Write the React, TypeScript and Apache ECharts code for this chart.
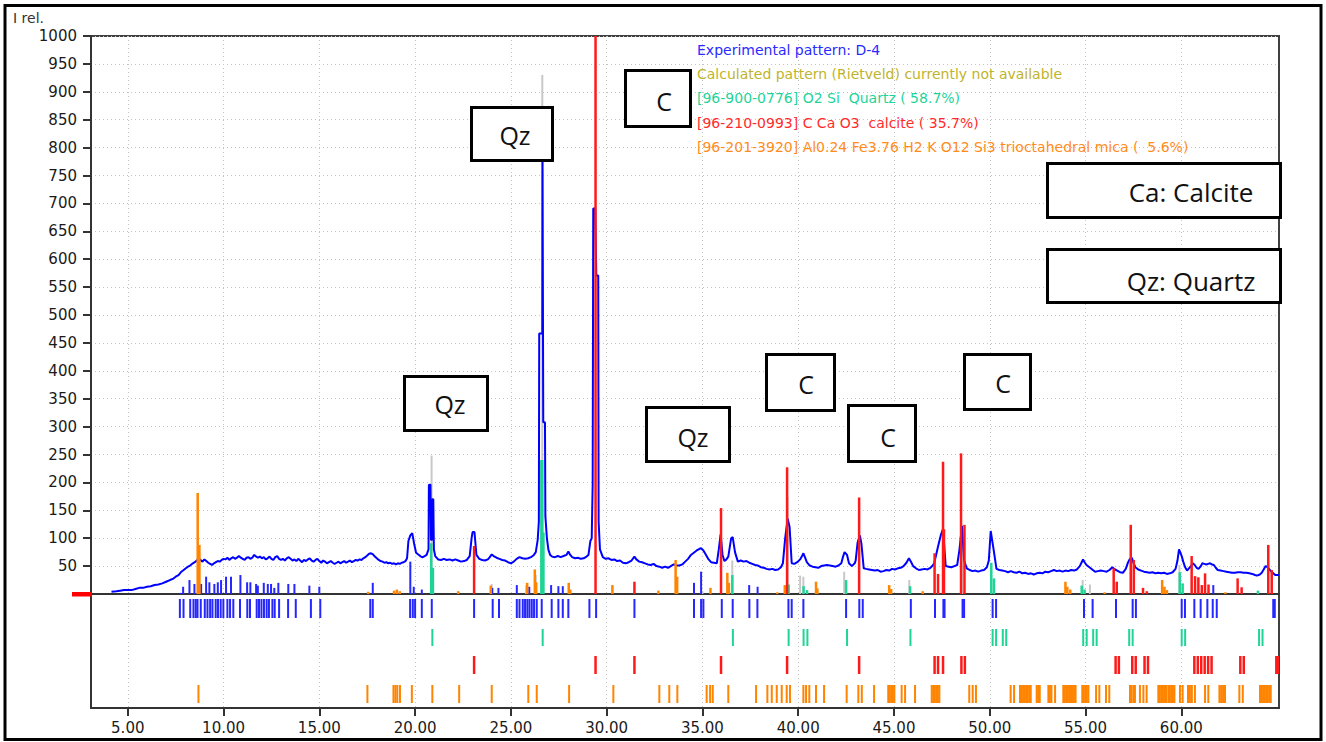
import React, { useEffect, useRef } from "react";
import * as echarts from "echarts";

// ---------- DATA ----------
const X_MIN = 3.08;
const X_MAX = 65.1;
const xTickValues = [5, 10, 15, 20, 25, 30, 35, 40, 45, 50, 55, 60];

// Experimental pattern (2theta, I rel.)
const experimental: [number, number][] = [
  [4.15, 4], [4.4, 5], [4.6, 6], [4.8, 7], [5.0, 7], [5.2, 7], [5.4, 9], [5.6, 11], [5.8, 11], [6.0, 13],
  [6.2, 14], [6.4, 16], [6.6, 17], [6.8, 19], [7.0, 22], [7.2, 25], [7.35, 27], [7.5, 31], [7.65, 34], [7.8, 40],
  [7.95, 44], [8.1, 48], [8.25, 51], [8.4, 55],
  [8.5, 57], [8.6, 60], [8.7, 63], [8.8, 61], [8.9, 58], [9.0, 62], [9.1, 59], [9.2, 56], [9.3, 54], [9.4, 52],
  [9.5, 55], [9.6, 57], [9.7, 59], [9.8, 58], [9.9, 61], [10.0, 63], [10.1, 62], [10.2, 65], [10.3, 61], [10.4, 64],
  [10.5, 66], [10.6, 63], [10.7, 65], [10.8, 68], [10.9, 65], [11.0, 63], [11.1, 61], [11.2, 65], [11.3, 66], [11.4, 63],
  [11.5, 65], [11.6, 70], [11.7, 67], [11.8, 65], [11.9, 67], [12.0, 64], [12.1, 66], [12.2, 62], [12.3, 64], [12.4, 67],
  [12.5, 63], [12.6, 61], [12.7, 66], [12.8, 68], [12.9, 63], [13.0, 61], [13.1, 63], [13.2, 60], [13.3, 64], [13.4, 66],
  [13.5, 63], [13.6, 60], [13.7, 62], [13.8, 59], [13.9, 63], [14.0, 60], [14.1, 57], [14.2, 61], [14.3, 59], [14.4, 62],
  [14.5, 64], [14.6, 60], [14.7, 58], [14.8, 61], [14.9, 63], [15.0, 59], [15.1, 56], [15.2, 60], [15.3, 58], [15.4, 55],
  [15.5, 57], [15.6, 59], [15.7, 56], [15.8, 54], [15.9, 56], [16.0, 58], [16.1, 55], [16.2, 57], [16.3, 59], [16.4, 56],
  [16.5, 58], [16.6, 60], [16.7, 57], [16.8, 59], [16.9, 61], [17.0, 60], [17.1, 62], [17.2, 61], [17.3, 64], [17.4, 66],
  [17.5, 69], [17.6, 72], [17.7, 73], [17.8, 71], [17.9, 67], [18.0, 64], [18.1, 61], [18.2, 59], [18.3, 58], [18.4, 56],
  [18.5, 57], [18.6, 55], [18.7, 56], [18.8, 54], [18.9, 55], [19.0, 53], [19.1, 55], [19.2, 54], [19.3, 56], [19.4, 57],
  [19.5, 59], [19.58, 64], [19.65, 95], [19.75, 105], [19.85, 109], [19.95, 90], [20.05, 74], [20.2, 70], [20.3, 67], [20.4, 66],
  [20.5, 68], [20.6, 70], [20.7, 80], [20.72, 196], [20.8, 196], [20.83, 97], [20.88, 97], [20.9, 170], [20.95, 170], [20.98, 80],
  [21.05, 68], [21.2, 62], [21.35, 61], [21.5, 63], [21.65, 61], [21.8, 62], [21.95, 60], [22.1, 62], [22.25, 60], [22.4, 58],
  [22.55, 59], [22.7, 61], [22.85, 68], [22.95, 100], [23.0, 111], [23.1, 111], [23.2, 70], [23.35, 63], [23.5, 61], [23.65, 60],
  [23.8, 62], [23.9, 66], [24.0, 71], [24.1, 68], [24.25, 65], [24.4, 63], [24.55, 61], [24.7, 60], [24.85, 57], [25.0, 55],
  [25.15, 58], [25.3, 63], [25.45, 66], [25.6, 64], [25.75, 63], [25.9, 64], [26.05, 66], [26.2, 70], [26.3, 75], [26.4, 97],
  [26.46, 130], [26.48, 467], [26.64, 467], [26.65, 800], [26.68, 800], [26.69, 308], [26.78, 308], [26.8, 140], [26.88, 100], [26.96, 79],
  [27.05, 70], [27.15, 67], [27.3, 66], [27.45, 68], [27.6, 66], [27.75, 68], [27.9, 70], [28.0, 76], [28.1, 70], [28.2, 66],
  [28.35, 64], [28.5, 65], [28.65, 63], [28.8, 64], [28.95, 67], [29.05, 70], [29.15, 95], [29.22, 100], [29.27, 196], [29.3, 691],
  [29.4, 691], [29.46, 571], [29.56, 571], [29.58, 130], [29.65, 80], [29.8, 66], [29.95, 63], [30.1, 64], [30.25, 61], [30.4, 62],
  [30.55, 59], [30.7, 60], [30.85, 56], [31.0, 55], [31.15, 57], [31.3, 60], [31.45, 67], [31.55, 62], [31.7, 58], [31.85, 57],
  [32.0, 55], [32.15, 53], [32.3, 52], [32.45, 54], [32.6, 50], [32.75, 49], [32.9, 47], [33.05, 49], [33.2, 47], [33.35, 50],
  [33.5, 53], [33.65, 51], [33.8, 51], [33.95, 53], [34.1, 58], [34.25, 63], [34.4, 70], [34.55, 74], [34.7, 78], [34.85, 81],
  [34.93, 82], [35.05, 78], [35.15, 72], [35.3, 63], [35.45, 57], [35.6, 56], [35.75, 55], [35.85, 79], [35.95, 107], [36.05, 70],
  [36.15, 59], [36.25, 62], [36.35, 67], [36.5, 100], [36.58, 102], [36.7, 75], [36.85, 58], [37.0, 60], [37.15, 58], [37.3, 59],
  [37.45, 56], [37.6, 54], [37.75, 52], [37.9, 51], [38.05, 48], [38.2, 47], [38.35, 45], [38.5, 44], [38.65, 45], [38.8, 43],
  [38.95, 44], [39.1, 48], [39.2, 55], [39.32, 100], [39.45, 135], [39.55, 120], [39.66, 55], [39.8, 54], [39.95, 57], [40.1, 62],
  [40.2, 68], [40.27, 73], [40.35, 66], [40.45, 57], [40.6, 51], [40.75, 49], [40.9, 48], [41.05, 47], [41.2, 50], [41.35, 51],
  [41.5, 52], [41.65, 51], [41.8, 50], [41.95, 49], [42.1, 51], [42.25, 55], [42.35, 68], [42.42, 75], [42.55, 70], [42.65, 55],
  [42.8, 50], [42.95, 55], [43.0, 60], [43.1, 92], [43.22, 105], [43.3, 90], [43.42, 46], [43.55, 45], [43.7, 44], [43.85, 43],
  [44.0, 42], [44.15, 43], [44.3, 40], [44.45, 41], [44.6, 43], [44.75, 42], [44.9, 45], [45.05, 44], [45.2, 46], [45.35, 47],
  [45.5, 50], [45.65, 56], [45.78, 64], [45.9, 57], [46.0, 50], [46.15, 46], [46.3, 43], [46.45, 44], [46.6, 45], [46.75, 44],
  [46.9, 47], [47.0, 50], [47.1, 55], [47.3, 85], [47.45, 106], [47.56, 117], [47.7, 50], [47.85, 49], [48.0, 48], [48.15, 50],
  [48.3, 52], [48.42, 80], [48.55, 122], [48.66, 60], [48.8, 46], [48.95, 43], [49.1, 41], [49.25, 42], [49.4, 40], [49.55, 42],
  [49.7, 43], [49.85, 48], [49.95, 60], [50.05, 113], [50.2, 80], [50.35, 45], [50.5, 43], [50.65, 42], [50.8, 41], [50.95, 39],
  [51.1, 41], [51.25, 39], [51.4, 38], [51.55, 40], [51.7, 37], [51.85, 38], [52.0, 36], [52.15, 37], [52.3, 35], [52.45, 37],
  [52.6, 38], [52.75, 37], [52.9, 40], [53.05, 39], [53.2, 41], [53.35, 43], [53.5, 41], [53.65, 42], [53.8, 40], [53.95, 42],
  [54.1, 41], [54.25, 43], [54.4, 42], [54.55, 44], [54.7, 50], [54.8, 57], [54.87, 62], [54.95, 57], [55.05, 52], [55.2, 48],
  [55.35, 44], [55.5, 40], [55.65, 41], [55.8, 42], [55.95, 41], [56.1, 40], [56.25, 43], [56.4, 48], [56.5, 45], [56.65, 42],
  [56.8, 39], [56.95, 38], [57.1, 45], [57.2, 55], [57.3, 62], [57.42, 65], [57.5, 56], [57.6, 48], [57.75, 44], [57.9, 42],
  [58.05, 40], [58.2, 39], [58.35, 38], [58.5, 39], [58.65, 37], [58.8, 38], [58.95, 37], [59.1, 38], [59.25, 36], [59.4, 37],
  [59.55, 39], [59.7, 45], [59.8, 60], [59.88, 80], [59.95, 74], [60.02, 68], [60.1, 58], [60.2, 48], [60.3, 42], [60.4, 46],
  [60.5, 50], [60.6, 55], [60.7, 52], [60.8, 47], [60.9, 45], [61.0, 49], [61.1, 55], [61.2, 54], [61.3, 53], [61.4, 54],
  [61.5, 55], [61.6, 53], [61.7, 52], [61.8, 47], [61.9, 43], [62.05, 42], [62.2, 41], [62.35, 40], [62.5, 39], [62.65, 38],
  [62.8, 38], [62.95, 39], [63.1, 39], [63.25, 38], [63.4, 38], [63.55, 37], [63.7, 36], [63.85, 34], [63.95, 33], [64.1, 35],
  [64.2, 38], [64.3, 44], [64.4, 50], [64.5, 48], [64.6, 44], [64.7, 40], [64.8, 37], [64.9, 34], [65.1, 34],
];

// Peak sticks (position, height)
const blueSticks: [number, number][] = [
  [7.75, 2], [7.89, 13], [8.22, 25], [8.48, 18], [8.83, 18], [9.09, 31], [9.26, 21], [9.52, 18], [9.7, 21], [9.87, 25],
  [10.13, 31], [10.39, 31], [10.88, 34], [11.23, 21], [11.4, 21], [11.7, 18], [11.79, 15], [12.1, 20], [12.31, 18], [12.48, 18],
  [12.65, 11], [12.86, 20], [13.38, 18], [13.7, 18], [14.48, 15], [15.0, 13], [17.79, 20], [19.75, 58], [19.93, 13], [20.35, 8],
  [24.03, 11], [24.35, 11], [25.31, 16], [25.96, 13], [27.1, 16], [27.48, 14], [27.71, 14], [34.56, 20], [34.93, 40], [37.44, 16],
  [37.88, 13], [61.67, 16],
];
const graySticks: [number, number][] = [
  [20.86, 248], [24.0, 18], [25.8, 16], [26.3, 34], [26.64, 930], [35.0, 5], [36.56, 60], [39.45, 174], [40.1, 33], [40.27, 31],
  [42.4, 40], [45.8, 25], [48.55, 110], [54.85, 25], [55.23, 17], [59.9, 52],
];
const greenSticks: [number, number][] = [
  [20.84, 91], [20.93, 47], [26.59, 240], [26.64, 240], [26.7, 110], [36.56, 34], [39.5, 17], [40.28, 14], [40.46, 7], [42.5, 25],
  [45.84, 14], [50.08, 56], [50.22, 28], [54.8, 15], [54.95, 8], [59.92, 39], [60.07, 19], [64.0, 6],
];
const redSticks: [number, number][] = [
  [23.08, 86], [29.42, 1000], [31.45, 22], [35.97, 154], [39.42, 227], [43.18, 173], [47.12, 73], [47.3, 36], [47.56, 237], [47.61, 116],
  [48.5, 252], [48.68, 124], [56.47, 46], [56.63, 22], [57.36, 124], [57.52, 61], [58.0, 11], [58.2, 5], [60.54, 68], [60.72, 32],
  [60.89, 30], [61.07, 16], [61.24, 37], [61.42, 17], [62.94, 28], [63.15, 12], [64.54, 88], [64.72, 43],
];
const orangeSticks: [number, number][] = [
  [8.65, 181], [8.74, 88], [17.55, 4], [18.9, 6], [19.05, 8], [19.2, 5], [22.25, 5], [23.95, 15], [25.85, 20], [26.25, 44],
  [26.32, 21], [28.02, 20], [28.1, 8], [30.3, 16], [32.7, 6], [33.6, 61], [33.68, 31], [35.42, 11], [36.3, 38], [36.38, 20],
  [38.9, 3], [39.3, 16], [40.93, 22], [41.0, 10], [44.75, 16], [44.85, 9], [46.5, 5], [53.95, 22], [54.05, 13], [54.2, 8],
  [56.0, 3], [59.0, 25], [59.12, 13], [59.25, 7], [62.3, 3],
];

// Peak position rows below the pattern
const blueRow = [
  7.72, 7.91, 8.26, 8.43, 8.55, 8.64, 8.81, 9.02, 9.16, 9.3, 9.42, 9.59, 9.71, 9.85, 9.99, 10.2, 10.34, 10.51, 10.86, 11.24,
  11.38, 11.73, 11.85, 11.98, 12.11, 12.25, 12.37, 12.55, 12.67, 12.9, 13.37, 13.77, 14.56, 15.05, 17.66, 17.79, 19.74, 19.88, 20.0, 20.35,
  20.87, 23.08, 24.05, 24.38, 25.31, 25.45, 25.62, 25.74, 25.86, 25.97, 26.09, 26.21, 26.35, 26.61, 27.13, 27.48, 27.71, 28.0, 29.1, 29.45,
  31.45, 34.56, 34.93, 35.05, 36.01, 36.58, 37.45, 37.87, 39.49, 39.66, 40.27, 42.5, 43.19, 43.37, 45.88, 47.14, 47.58, 47.64, 48.58, 48.66,
  50.15, 50.33, 54.92, 55.37, 56.59, 57.46, 57.63, 60.02, 60.19, 60.68, 61.01, 61.36, 61.64, 61.85, 64.8, 64.88,
];
const greenRow = [
  20.9, 26.66, 36.59, 39.5, 40.28, 40.48, 42.55, 45.86, 50.15, 50.33, 50.68, 50.86, 54.88, 55.06, 55.4, 55.58, 57.28, 57.46, 60.02, 60.2,
  64.06, 64.24,
];
const redRow = [
  23.08, 29.42, 31.45, 35.97, 39.42, 43.18, 47.12, 47.3, 47.56, 48.52, 48.7, 56.57, 56.74, 57.44, 57.62, 58.08, 58.26, 60.68, 60.86, 61.04,
  61.22, 61.4, 61.58, 63.08, 63.26, 64.96, 65.04,
];
const orangeRow = [
  8.69, 17.51, 18.87, 18.97, 19.07, 19.21, 19.83, 20.9, 22.3, 24.0, 25.91, 26.35, 28.04, 30.35, 32.75, 33.27, 33.69, 35.22, 35.4, 35.54,
  36.35, 37.8, 38.39, 38.62, 38.88, 39.14, 39.4, 39.57, 40.27, 40.41, 40.58, 40.93, 41.35, 42.53, 43.14, 43.32, 43.96, 44.7, 44.78, 44.86,
  44.94, 45.02, 45.4, 45.58, 46.1, 46.97, 47.05, 47.13, 47.21, 47.29, 47.37, 48.93, 49.11, 49.28, 51.09, 51.27, 51.58, 51.66, 51.74, 51.82,
  51.9, 51.98, 52.06, 52.14, 52.45, 52.53, 52.61, 53.06, 53.14, 53.22, 53.41, 53.84, 53.92, 54.0, 54.08, 54.16, 54.24, 54.32, 54.4, 54.48,
  54.83, 54.91, 54.99, 55.07, 55.15, 55.55, 55.72, 56.07, 56.24, 57.32, 57.4, 57.5, 57.58, 57.84, 58.02, 58.19, 58.8, 58.88, 58.96, 59.04,
  59.12, 59.2, 59.32, 59.4, 59.48, 59.56, 59.64, 59.93, 60.07, 60.35, 60.45, 60.55, 60.71, 61.24, 61.41, 61.99, 62.08, 62.18, 62.28, 63.03,
  63.21, 64.11, 64.19, 64.27, 64.35, 64.43, 64.51, 64.59, 64.67,
];

const legendLines = [
  "Experimental pattern: D-4",
  "Calculated pattern (Rietveld) currently not available",
  "[96-900-0776] O2 Si  Quartz ( 58.7%)",
  "[96-210-0993] C Ca O3  calcite ( 35.7%)",
  "[96-201-3920] Al0.24 Fe3.76 H2 K O12 Si3 trioctahedral mica (  5.6%)",
];
const annotationLabels = ["C", "Qz", "Ca: Calcite", "Qz: Quartz", "Qz", "Qz", "C", "C", "C"];

// ---------- LAYOUT / STYLE ----------
const COLORS = {
  exp: "#0000ff",
  blue: "#2626ff",
  gray: "#c8c8c8",
  green: "#1fd494",
  red: "#ff1a1a",
  orange: "#ff8400",
};
const legendColors = ["#2a2aff", "#c0b42c", "#1fd49a", "#ff2b2b", "#ff8c1a"];
const legendY = [50, 74, 98, 123, 147];
// box: [x0, y0, x1, y1, textX, textY, fontSize]
const annotationBoxes: number[][] = [
  [624, 69, 692, 128, 664, 101, 25],
  [470, 106, 554, 162, 515, 135, 25],
  [1046, 162, 1282, 219, 1191, 192, 26],
  [1046, 248, 1282, 304, 1191, 281, 26],
  [403, 375, 489, 432, 450, 404, 25],
  [645, 406, 731, 463, 693, 437, 25],
  [765, 353, 836, 412, 806, 384, 25],
  [847, 404, 917, 463, 888, 437, 25],
  [963, 353, 1032, 411, 1003, 383, 25],
];
// row extents (px below the zero line)
const ROWS = { blue: [5, 24], green: [35, 52], red: [62, 80], orange: [91, 109] };

function stickSeries(data: [number, number][], color: string, width: number, z: number) {
  return {
    type: "custom",
    xAxisIndex: 0,
    yAxisIndex: 0,
    z,
    clip: true,
    data,
    encode: { x: 0, y: 1 },
    renderItem: (_p: any, api: any) => {
      const x = api.value(0);
      const h = api.value(1);
      const a = api.coord([x, 0]);
      const b = api.coord([x, h]);
      return {
        type: "line",
        shape: { x1: a[0], y1: a[1], x2: b[0], y2: b[1] },
        style: { stroke: color, lineWidth: width },
      };
    },
  };
}

function rowSeries(data: number[], color: string, ext: number[], width: number) {
  return {
    type: "custom",
    xAxisIndex: 1,
    yAxisIndex: 1,
    z: 3,
    clip: true,
    data: data.map((v) => [v, 0]),
    encode: { x: 0, y: 1 },
    renderItem: (_p: any, api: any) => {
      const x = api.value(0);
      const a = api.coord([x, ext[0]]);
      const b = api.coord([x, ext[1]]);
      return {
        type: "line",
        shape: { x1: a[0], y1: a[1], x2: b[0], y2: b[1] },
        style: { stroke: color, lineWidth: width },
      };
    },
  };
}

export default function App() {
  const ref = useRef<HTMLDivElement>(null);
  useEffect(() => {
    if (!ref.current) return;
    const chart = echarts.init(ref.current, undefined, { renderer: "svg" });
    const axisFont = { fontFamily: "DejaVu Sans", fontSize: 15, color: "#1a1a1a" };
    const gridLine = { show: true, lineStyle: { color: "#c4c4c4", width: 1, type: [1, 3] as any } };

    const graphics: any[] = [];
    graphics.push({
      type: "rect",
      shape: { x: 5, y: 5.5, width: 1316, height: 734 },
      style: { fill: "none", stroke: "#000", lineWidth: 3 },
      z: 50,
    });
    graphics.push({
      type: "text",
      left: 13,
      top: 11,
      style: { text: "I rel.", fontFamily: "DejaVu Sans", fontSize: 14, fill: "#333" },
      z: 50,
    });
    graphics.push({
      type: "rect",
      shape: { x: 72, y: 592, width: 20, height: 4.5 },
      style: { fill: "#ff0000" },
      z: 60,
    });
    legendLines.forEach((t, i) => {
      graphics.push({
        type: "text",
        x: 697,
        y: legendY[i],
        style: {
          text: t,
          fill: legendColors[i],
          fontFamily: "DejaVu Sans",
          fontSize: 14,
          verticalAlign: "middle",
          align: "left",
        },
        z: 55,
      });
    });
    annotationBoxes.forEach((b, i) => {
      graphics.push({
        type: "rect",
        shape: { x: b[0] + 1.5, y: b[1] + 1.5, width: b[2] - b[0] - 3, height: b[3] - b[1] - 3 },
        style: { fill: "#fff", stroke: "#000", lineWidth: 3 },
        z: 70,
      });
      graphics.push({
        type: "text",
        x: b[4],
        y: b[5],
        style: {
          text: annotationLabels[i],
          fill: "#111",
          fontFamily: "Open Sans",
          fontSize: b[6],
          align: "center",
          verticalAlign: "middle",
        },
        z: 71,
      });
    });

    chart.setOption({
      animation: false,
      backgroundColor: "#fff",
      grid: [
        { left: 91, top: 36, width: 1188, height: 558, show: true, borderColor: "#404040", borderWidth: 2, backgroundColor: "transparent" },
        { left: 91, top: 594, width: 1188, height: 114, show: true, borderColor: "#404040", borderWidth: 2, backgroundColor: "transparent" },
      ],
      xAxis: [
        {
          type: "value",
          gridIndex: 0,
          min: X_MIN,
          max: X_MAX,
          axisLine: { show: true, onZero: false, lineStyle: { color: "#333", width: 2 } },
          axisTick: { show: false, customValues: xTickValues },
          axisLabel: { show: false, customValues: xTickValues },
          splitLine: gridLine,
        },
        {
          type: "value",
          gridIndex: 1,
          min: X_MIN,
          max: X_MAX,
          axisLine: { show: true, onZero: false, lineStyle: { color: "#333", width: 2 } },
          axisTick: { show: true, length: 8, customValues: xTickValues, lineStyle: { color: "#333", width: 2 } },
          axisLabel: { ...axisFont, margin: 12, customValues: xTickValues, formatter: (v: number) => v.toFixed(2) },
          splitLine: gridLine,
        },
      ],
      yAxis: [
        {
          type: "value",
          gridIndex: 0,
          min: 0,
          max: 1000,
          interval: 50,
          axisLine: { show: true, lineStyle: { color: "#333", width: 2 } },
          axisTick: { show: true, length: 8, lineStyle: { color: "#333", width: 2 } },
          axisLabel: { ...axisFont, margin: 14, formatter: (v: number) => (v === 0 ? "" : String(v)) },
          splitLine: gridLine,
        },
        {
          type: "value",
          gridIndex: 1,
          min: 0,
          max: 114,
          inverse: true,
          axisLine: { show: true, lineStyle: { color: "#333", width: 2 } },
          axisTick: { show: false },
          axisLabel: { show: false },
          splitLine: { show: false },
        },
      ],
      series: [
        stickSeries(graySticks, COLORS.gray, 2, 1),
        {
          type: "line",
          xAxisIndex: 0,
          yAxisIndex: 0,
          data: experimental,
          showSymbol: false,
          symbol: "none",
          z: 2,
          lineStyle: { color: COLORS.exp, width: 2 },
          clip: true,
        },
        stickSeries(blueSticks, COLORS.blue, 2, 3),
        stickSeries(greenSticks, COLORS.green, 2.5, 4),
        stickSeries(orangeSticks, COLORS.orange, 2.5, 5),
        stickSeries(redSticks, COLORS.red, 2.5, 6),
        rowSeries(blueRow, COLORS.blue, ROWS.blue, 2),
        rowSeries(greenRow, COLORS.green, ROWS.green, 2),
        rowSeries(redRow, COLORS.red, ROWS.red, 2.5),
        rowSeries(orangeRow, COLORS.orange, ROWS.orange, 2),
      ],
      graphic: graphics,
    });
    return () => chart.dispose();
  }, []);
  return <div ref={ref} style={{ position: "absolute", left: 0, top: 0, width: 1326, height: 742 }} />;
}
